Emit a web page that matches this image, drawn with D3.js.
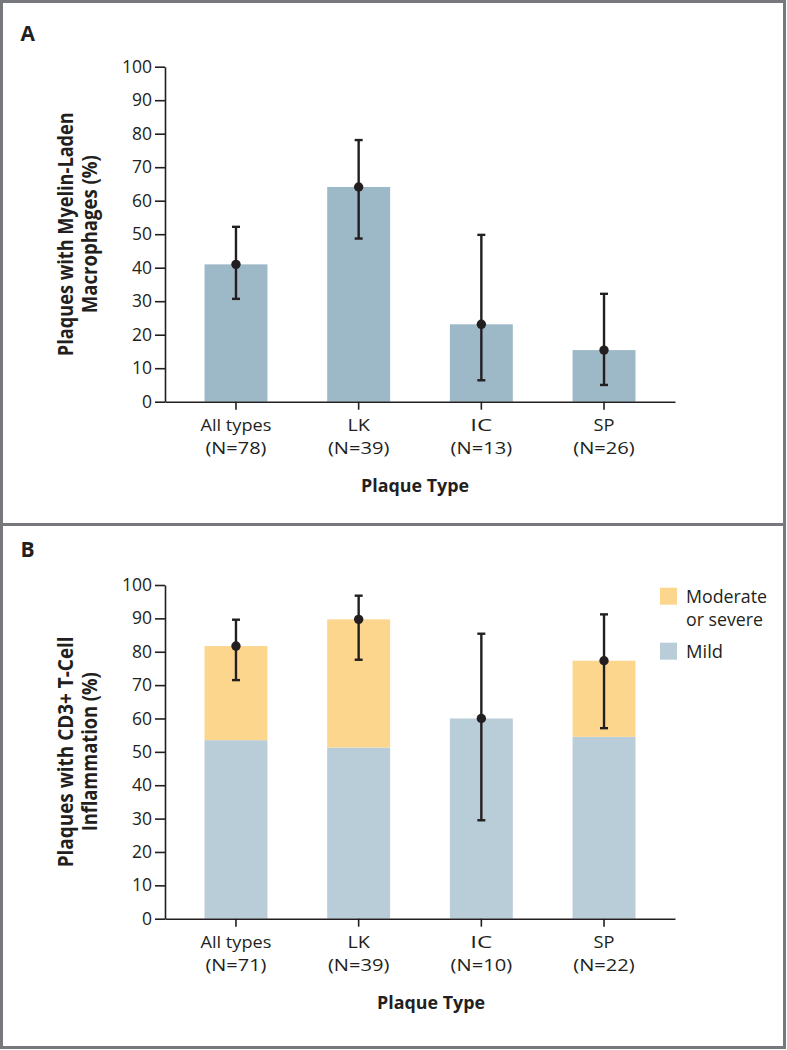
<!DOCTYPE html>
<html>
<head>
<meta charset="utf-8">
<script src="https://cdn.jsdelivr.net/npm/d3@7"></script>
<style>
  html, body { margin: 0; padding: 0; background: #fff; }
  svg { display: block; }
  text { font-family: "Open Sans", "Noto Sans", sans-serif; fill: #231f20; }
</style>
</head>
<body>
<svg id="chart" width="787" height="1050"></svg>
<script>
// ---- Data ----
const categories = ["All types", "LK", "IC", "SP"];
const nA = ["(N=78)", "(N=39)", "(N=13)", "(N=26)"];
const nB = ["(N=71)", "(N=39)", "(N=10)", "(N=22)"];

// Panel A: plaques with myelin-laden macrophages (%)
const macroValue = [41.0, 64.1, 23.1, 15.4];
const macroLow   = [30.7, 48.7, 6.4, 5.0];
const macroHigh  = [52.2, 78.1, 49.8, 32.2];

// Panel B: CD3+ T-cell inflammation (%)
const mildValue     = [53.5, 51.3, 60.0, 54.5];
const moderateValue = [28.2, 38.4, 0.0, 22.8];
const totalLow      = [71.5, 77.6, 29.5, 57.1];
const totalHigh     = [89.6, 96.8, 85.4, 91.2];

const yTicks = [0, 10, 20, 30, 40, 50, 60, 70, 80, 90, 100];
const legendLabels = [["Moderate", "or severe"], ["Mild"]];

// ---- Styles ----
const ink = "#231f20";
const colA = "#9db8c6";
const colMild = "#b9cdd8";
const colMod = "#fdd68e";

const svg = d3.select("#chart");

// frame
svg.append("rect").attr("x", 1.5).attr("y", 1.5).attr("width", 783).attr("height", 1046)
  .attr("fill", "none").attr("stroke", "#77787b").attr("stroke-width", 3);
svg.append("line").attr("x1", 1.5).attr("x2", 784.5).attr("y1", 524.5).attr("y2", 524.5)
  .attr("stroke", "#77787b").attr("stroke-width", 3);

const x = d3.scaleBand().domain(categories).range([165, 675])
  .paddingInner(0.487).paddingOuter(0.322);

function drawPanel(opts) {
  const g = svg.append("g");
  const y = d3.scaleLinear().domain([0, 100]).range([opts.y0, opts.y1]);

  // panel letter
  g.append("text").attr("x", 20.5).attr("y", opts.letterY).text(opts.letter)
    .attr("font-size", 21).attr("font-weight", 700);

  // bars
  opts.drawBars(g, y);

  // y axis
  const ya = g.append("g").attr("transform", "translate(165,0)")
    .call(d3.axisLeft(y).tickValues(yTicks).tickSize(10).tickPadding(3).tickSizeOuter(0));
  ya.select(".domain").attr("stroke", ink).attr("stroke-width", 1.6);
  ya.selectAll(".tick line").attr("stroke", ink).attr("stroke-width", 1.6);
  ya.selectAll(".tick text").attr("font-size", 17.5).attr("font-family", "Open Sans").attr("fill", ink);

  // x axis
  const xa = g.append("g").attr("transform", `translate(0,${opts.y0})`)
    .call(d3.axisBottom(x).tickSize(8).tickSizeOuter(0).tickFormat(""));
  xa.select(".domain").attr("stroke", ink).attr("stroke-width", 1.6);
  xa.selectAll(".tick line").attr("stroke", ink).attr("stroke-width", 1.6);

  // category labels
  const lw1 = [71, 22.5, 22, 21];
  const lw2 = [61, 61.5, 61.5, 61.5];
  categories.forEach((c, i) => {
    const cx = x(c) + x.bandwidth() / 2;
    g.append("text").attr("x", cx).attr("y", opts.y0 + 29).attr("text-anchor", "middle")
      .attr("font-size", 17).attr("textLength", lw1[i]).attr("lengthAdjust", "spacingAndGlyphs").text(c);
    g.append("text").attr("x", cx).attr("y", opts.y0 + 52.5).attr("text-anchor", "middle")
      .attr("font-size", 17).attr("textLength", lw2[i]).attr("lengthAdjust", "spacingAndGlyphs").text(opts.nLabels[i]);
  });

  // x axis title
  g.append("text").attr("x", opts.xTitleX).attr("y", opts.y0 + 90).attr("text-anchor", "middle")
    .attr("font-size", 18.5).attr("font-weight", 700)
    .attr("textLength", 108).attr("lengthAdjust", "spacingAndGlyphs").text("Plaque Type");

  // y axis title
  const cy = (opts.y0 + opts.y1) / 2;
  opts.yTitle.forEach((t, i) => {
    g.append("text")
      .attr("transform", `translate(${i === 0 ? 72.5 : 97},${cy}) rotate(-90)`)
      .attr("text-anchor", "middle").attr("font-size", 20.5).attr("font-weight", 700)
      .attr("textLength", opts.yTitleLen[i]).attr("lengthAdjust", "spacingAndGlyphs").text(t);
  });

  // error bars
  categories.forEach((c, i) => {
    const cx = x(c) + x.bandwidth() / 2;
    const lo = y(opts.low[i]), hi = y(opts.high[i]);
    g.append("line").attr("x1", cx).attr("x2", cx).attr("y1", lo).attr("y2", hi)
      .attr("stroke", ink).attr("stroke-width", 2.4);
    [lo, hi].forEach(yy => g.append("line").attr("x1", cx - 4).attr("x2", cx + 4)
      .attr("y1", yy).attr("y2", yy).attr("stroke", ink).attr("stroke-width", 2.4));
    g.append("circle").attr("cx", cx).attr("cy", y(opts.point[i])).attr("r", 4.7).attr("fill", ink);
  });
  return y;
}

// Panel A
drawPanel({
  letter: "A", letterY: 41, y0: 401.7, y1: 66.7, nLabels: nA, xTitleX: 415,
  yTitle: ["Plaques with Myelin-Laden", "Macrophages (%)"], yTitleLen: [244, 158],
  low: macroLow, high: macroHigh, point: macroValue,
  drawBars: (g, y) => {
    g.selectAll(".barA").data(categories).enter().append("rect")
      .attr("x", d => x(d)).attr("width", x.bandwidth())
      .attr("y", (d, i) => y(macroValue[i])).attr("height", (d, i) => y(0) - y(macroValue[i]))
      .attr("fill", colA);
  }
});

// Panel B
const totals = mildValue.map((v, i) => v + moderateValue[i]);
drawPanel({
  letter: "B", letterY: 557, y0: 918.7, y1: 585, nLabels: nB, xTitleX: 431,
  yTitle: ["Plaques with CD3+ T-Cell", "Inflammation (%)"], yTitleLen: [231, 159],
  low: totalLow, high: totalHigh, point: totals,
  drawBars: (g, y) => {
    g.selectAll(".mild").data(categories).enter().append("rect")
      .attr("x", d => x(d)).attr("width", x.bandwidth())
      .attr("y", (d, i) => y(mildValue[i])).attr("height", (d, i) => y(0) - y(mildValue[i]))
      .attr("fill", colMild);
    g.selectAll(".mod").data(categories).enter().append("rect")
      .attr("x", d => x(d)).attr("width", x.bandwidth())
      .attr("y", (d, i) => y(totals[i])).attr("height", (d, i) => y(mildValue[i]) - y(totals[i]))
      .attr("fill", colMod);
  }
});

// Legend
const leg = svg.append("g");
const legColors = [colMod, colMild];
const legY = [587.7, 642.7];
const legLen = [[81, 77], [37]];
legendLabels.forEach((lines, i) => {
  leg.append("rect").attr("x", 660).attr("y", legY[i]).attr("width", 17).attr("height", 17)
    .attr("fill", legColors[i]);
  lines.forEach((t, j) => {
    leg.append("text").attr("x", 686).attr("y", legY[i] + 14.8 + j * 23.5)
      .attr("font-size", 19).attr("textLength", legLen[i][j]).attr("lengthAdjust", "spacingAndGlyphs").text(t);
  });
});
</script>
</body>
</html>
